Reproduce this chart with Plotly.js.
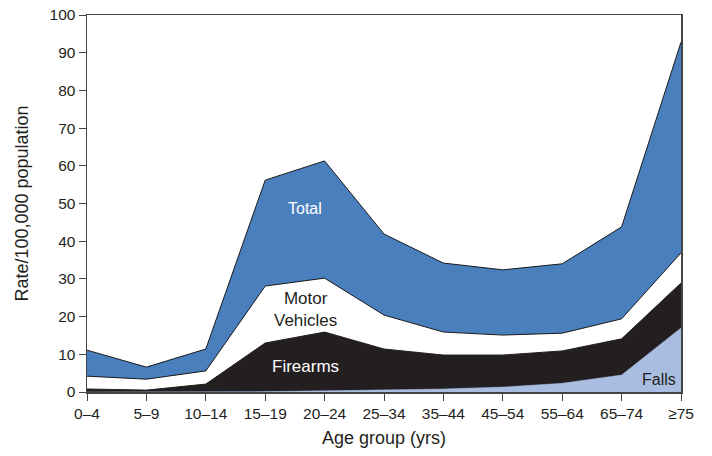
<!DOCTYPE html>
<html>
<head>
<meta charset="utf-8">
<script src="https://cdn.plot.ly/plotly-3.0.1.min.js"></script>
<style>html,body{margin:0;padding:0;background:#fff;}#chart{width:712px;height:456px;}</style>
</head>
<body>
<div id="chart"></div>
<script>
// Age groups (x categories)
var ageGroups = ["0–4", "5–9", "10–14", "15–19", "20–24", "25–34", "35–44", "45–54", "55–64", "65–74", "≥75"];
// Injury death rates per 100,000 population, by cause
var fallsRate      = [0.0, 0.0, 0.0, 0.1, 0.3, 0.5, 0.8, 1.3, 2.3, 4.5, 17.0];
var firearmsRate   = [0.8, 0.5, 2.1, 12.9, 15.6, 10.9, 9.0, 8.5, 8.6, 9.6, 11.9];
var motorVehRate   = [3.4, 2.9, 3.5, 15.1, 14.3, 9.0, 6.1, 5.3, 4.7, 5.3, 8.0];
var totalRate      = [11.1, 6.6, 11.4, 56.2, 61.3, 41.9, 34.2, 32.4, 34.0, 43.8, 92.8];

var xIdx = ageGroups.map(function (_, i) { return i; });
function add(a, b) { return a.map(function (v, i) { return v + b[i]; }); }
var cumFalls = fallsRate.slice();
var cumFirearms = add(cumFalls, firearmsRate);
var cumMotor = add(cumFirearms, motorVehRate);

var traces = [
  {x: xIdx, y: totalRate, type: "scatter", mode: "lines", fill: "tozeroy",
   fillcolor: "#4a7fbd", line: {color: "#1a1a1a", width: 1}, hoverinfo: "skip"},
  {x: xIdx, y: cumMotor, type: "scatter", mode: "lines", fill: "tozeroy",
   fillcolor: "#ffffff", line: {color: "#1a1a1a", width: 1}, hoverinfo: "skip"},
  {x: xIdx, y: cumFirearms, type: "scatter", mode: "lines", fill: "tozeroy",
   fillcolor: "#231f20", line: {color: "#231f20", width: 1}, hoverinfo: "skip"},
  {x: xIdx, y: cumFalls, type: "scatter", mode: "lines", fill: "tozeroy",
   fillcolor: "#a9bde0", line: {color: "#a9bde0", width: 0.5}, hoverinfo: "skip"}
];

var fontFam = "Liberation Sans, Arial, Helvetica, sans-serif";
var layout = {
  width: 712, height: 456,
  margin: {l: 87, r: 31, t: 15, b: 64},
  paper_bgcolor: "#ffffff", plot_bgcolor: "#ffffff",
  showlegend: false,
  font: {family: fontFam, size: 16, color: "#231f20"},
  xaxis: {
    range: [0, 10], tickvals: xIdx, ticktext: ageGroups,
    showgrid: false, zeroline: false,
    showline: true, linecolor: "#444", linewidth: 1.5, mirror: true,
    ticks: "outside", ticklen: 7, tickcolor: "#444", tickwidth: 1,
    tickfont: {family: fontFam, size: 15.5, color: "#231f20"},
    title: {text: "Age group (yrs)", font: {family: fontFam, size: 18, color: "#231f20"}, standoff: 10}
  },
  yaxis: {
    range: [0, 100], tickvals: [0, 10, 20, 30, 40, 50, 60, 70, 80, 90, 100],
    showgrid: false, zeroline: false,
    showline: true, linecolor: "#444", linewidth: 1.5, mirror: true,
    ticks: "outside", ticklen: 7, tickcolor: "#444", tickwidth: 1,
    tickfont: {family: fontFam, size: 15.5, color: "#231f20"},
    title: {text: "Rate/100,000 population", font: {family: fontFam, size: 18, color: "#231f20"}, standoff: 16}
  },
  annotations: [
    {x: 3.67, y: 48.8, xref: "x", yref: "y", text: "Total", showarrow: false,
     font: {family: fontFam, size: 16, color: "#ffffff"}},
    {x: 3.67, y: 21.8, xref: "x", yref: "y", text: "Motor<br>Vehicles", showarrow: false,
     font: {family: fontFam, size: 17, color: "#231f20"}},
    {x: 3.67, y: 6.7, xref: "x", yref: "y", text: "Firearms", showarrow: false,
     font: {family: fontFam, size: 17, color: "#ffffff"}},
    {x: 9.95, y: 3.3, xref: "x", yref: "y", text: "Falls", showarrow: false, xanchor: "right",
     font: {family: fontFam, size: 16, color: "#231f20"}}
  ]
};

Plotly.newPlot("chart", traces, layout, {displayModeBar: false, staticPlot: true});
</script>
</body>
</html>
